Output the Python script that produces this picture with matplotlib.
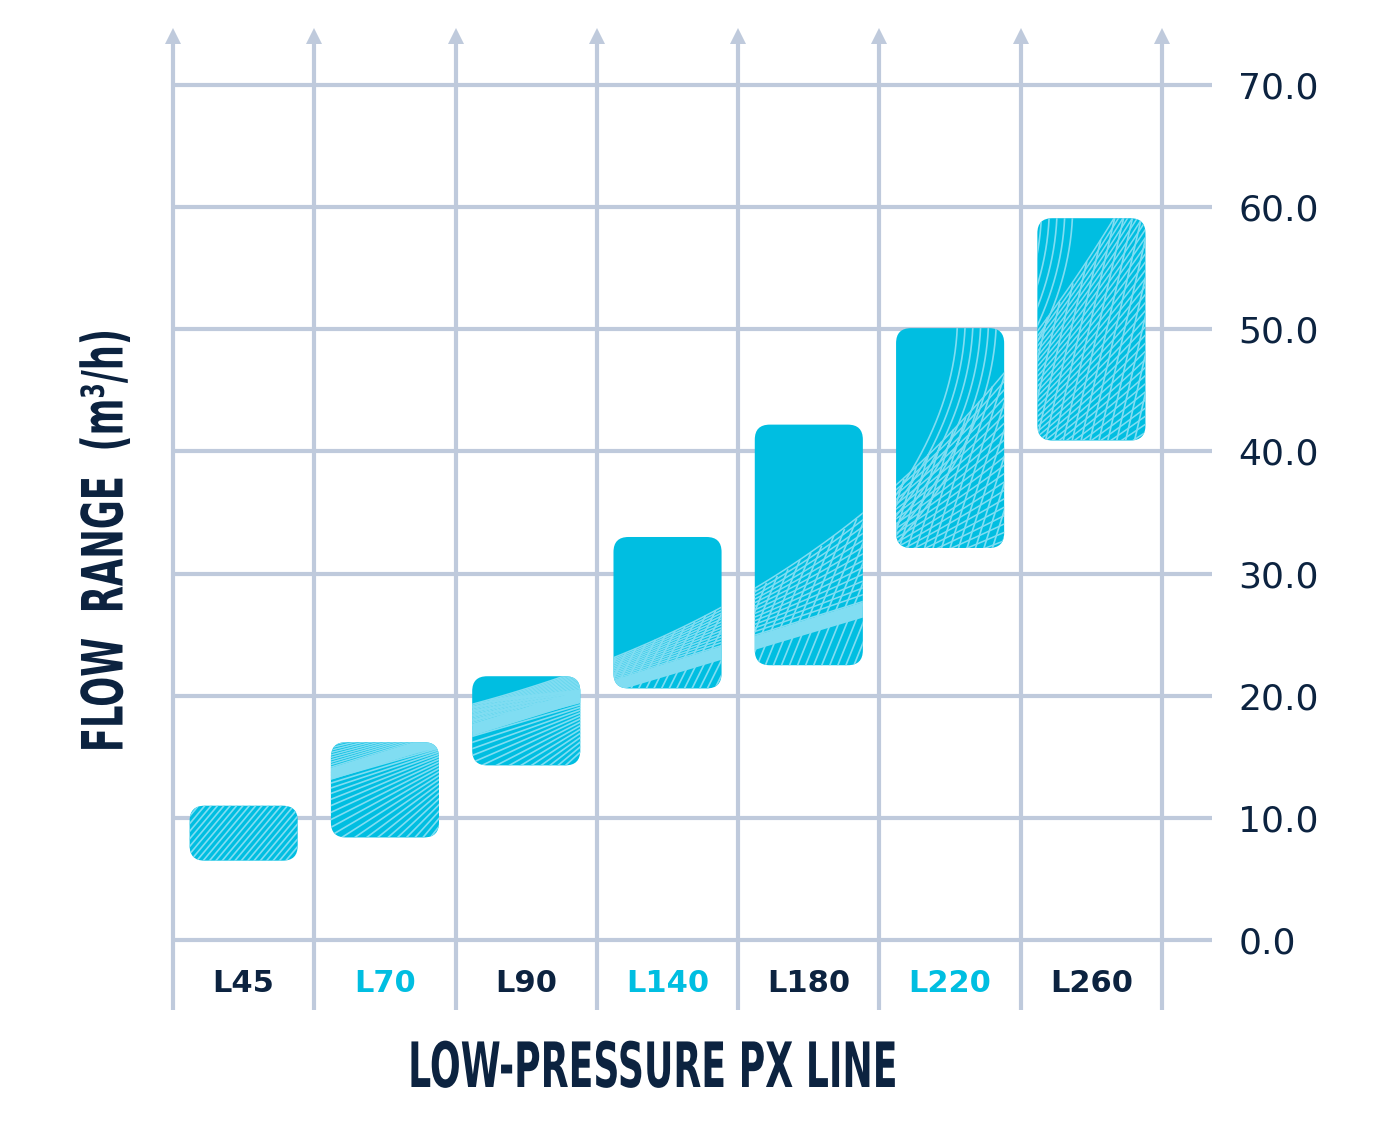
import numpy as np
import matplotlib.pyplot as plt
from matplotlib.patches import FancyBboxPatch
from matplotlib.patheffects import AbstractPathEffect
from matplotlib.transforms import Affine2D

plt.rcParams['font.family'] = ['DejaVu Sans']

# flow range per model (m3/h)
models = ['L45', 'L70', 'L90', 'L140', 'L180', 'L220', 'L260']
flow_min = [6.5, 8.4, 14.3, 20.6, 22.5, 32.1, 40.9]
flow_max = [11.0, 16.2, 21.6, 33.0, 42.2, 50.1, 59.1]
y_ticks = [0, 10, 20, 30, 40, 50, 60, 70]

NAVY = '#0c2340'
CYAN = '#00bee1'
LIGHT = '#80ddf2'
GRID = '#bfcadc'

BAR_W = 0.765
XMAX = 6.853
YMIN, YMAX = -5.73, 74.67


class Squeeze(AbstractPathEffect):
    # no condensed font installed, so narrow the glyphs along the baseline
    def __init__(self, sx):
        super().__init__()
        self.sx = sx

    def draw_path(self, renderer, gc, tpath, affine, rgbFace=None):
        ext = tpath.get_extents()
        cx = (ext.x0 + ext.x1) / 2
        sq = Affine2D().translate(-cx, 0).scale(self.sx, 1).translate(cx, 0)
        renderer.draw_path(gc, tpath, sq + affine, rgbFace)


def top_edge(x):
    # where the solid colour begins on the bar artwork
    return 11.5 + 4.1 * np.exp(0.398 * x)


def band_edge(x):
    # lower edge of the mesh / light band
    return np.minimum(21.3 + 3.6 * (x - 2.6), top_edge(x) - 0.8)


def draw_texture(ax, patch, i, lo, hi, px_x, px_y):
    left, right = i - BAR_W / 2, i + BAR_W / 2
    xs = np.linspace(left - 0.02, right + 0.02, 80)
    top = top_edge(xs)
    band = band_edge(xs)
    arts = []

    if i > 0:
        # light band right under the mesh
        delta = 1.0 + 0.15 * (xs - 2.6).clip(0)
        arts.append(ax.fill_between(xs, band - delta, band, color=LIGHT, lw=0, zorder=3))

        # fan of shallow curves between band and solid area
        depth_px = np.max(top - band) * px_y
        for t in np.linspace(0, 1, max(14, int(depth_px / 8))):
            arts += ax.plot(xs, band + (top - band) * t, color=LIGHT, lw=1.1, zorder=3)

    segs_x, segs_y = [], []
    if i in (1, 2):
        # rays fanning out from a point past the upper right corner
        xv = right + 0.55
        yv = band_edge(right) + 0.6
        r = np.linspace(0, 260, 60)
        n_ray = 26 if i == 1 else 22
        a0, a1 = (14, 62) if i == 1 else (6, 42)
        for k in range(n_ray):
            phi = np.radians(a0 + (a1 - a0) * (k / (n_ray - 1)) ** 1.3)
            xl = xv - r * np.cos(phi) / px_x
            yl = yv - r * np.sin(phi) / px_y
            yl = np.where(yl <= top_edge(xl), yl, np.nan)
            segs_x += list(xl) + [np.nan]
            segs_y += list(yl) + [np.nan]
    else:
        # steep hatch lines below the solid area
        theta = np.radians(50 + 4.5 * i)
        s = (px_y / px_x) / np.tan(theta)
        step = 0.045 + 0.003 * i
        ys = np.linspace(lo - 1, hi + 1, 80)
        for x0 in np.arange(left - (hi - lo + 2) * s - step, right + step, step):
            xl = x0 + (ys - lo + 1) * s
            yl = np.where(ys <= top_edge(xl), ys, np.nan)
            segs_x += list(xl) + [np.nan]
            segs_y += list(yl) + [np.nan]

    if i in (5, 6):
        # thin arcs through the solid part
        ys = np.linspace(lo, hi + 1, 60)
        dy = (hi + 1 - ys) * px_y
        starts = np.arange(right - 0.33, right - 0.02, 0.055) if i == 5 else \
            np.arange(left + 0.03, left + 0.3, 0.055)
        for xa in starts:
            segs_x += list(xa - dy ** 2 / 520 / px_x) + [np.nan]
            segs_y += list(ys) + [np.nan]

    arts += ax.plot(segs_x, segs_y, color=LIGHT, lw=1.2, zorder=3)
    for a in arts:
        a.set_clip_path(patch)


fig = plt.figure(figsize=(13.83, 11.35), dpi=100)
ax = fig.add_axes([0.1251, 0.1101, 0.7512, 0.8652])
ax.set_xlim(-0.5, XMAX)
ax.set_ylim(YMIN, YMAX)

# pixel scales so rounded corners stay circular
px_x = ax.transData.transform((1, 0))[0] - ax.transData.transform((0, 0))[0]
px_y = ax.transData.transform((0, 1))[1] - ax.transData.transform((0, 0))[1]

n = len(models)
for v in y_ticks:
    ax.axhline(v, color=GRID, lw=3, zorder=1)
for e in np.arange(n + 1) - 0.5:
    ax.plot([e, e], [YMIN, 74.0], color=GRID, lw=3, zorder=1, clip_on=False,
            solid_capstyle='butt')
    ax.plot(e, 74.0, marker='^', ms=12, color=GRID, mew=0, zorder=1, clip_on=False)

for i, (lo, hi) in enumerate(zip(flow_min, flow_max)):
    patch = FancyBboxPatch((i - BAR_W / 2, lo), BAR_W, hi - lo,
                           boxstyle='round,pad=0,rounding_size=0.106',
                           mutation_aspect=px_x / px_y, fc=CYAN, ec='none', zorder=2)
    ax.add_patch(patch)
    draw_texture(ax, patch, i, lo, hi, px_x, px_y)
    ax.text(i, -3.52, models[i], ha='center', va='center', fontsize=22,
            fontweight='bold', color=NAVY if i % 2 == 0 else CYAN)

ax.set_xticks([])
ax.yaxis.tick_right()
ax.set_yticks(y_ticks)
ax.set_yticklabels([f'{v:.1f}' for v in y_ticks])
ax.tick_params(axis='y', length=0, pad=19, labelsize=26, labelcolor=NAVY)
for sp in ax.spines.values():
    sp.set_visible(False)

fig.text(653 / 1383, 1 - 1070 / 1135, 'LOW-PRESSURE PX LINE', ha='center', va='center',
         fontsize=45, fontweight='bold', color=NAVY, path_effects=[Squeeze(0.58)])
fig.text(107 / 1383, 1 - 540 / 1135, 'FLOW  RANGE  (m³/h)', ha='center', va='center',
         rotation=90, fontsize=41, fontweight='bold', color=NAVY,
         path_effects=[Squeeze(0.62)])

fig.savefig('out.png', dpi=100)
